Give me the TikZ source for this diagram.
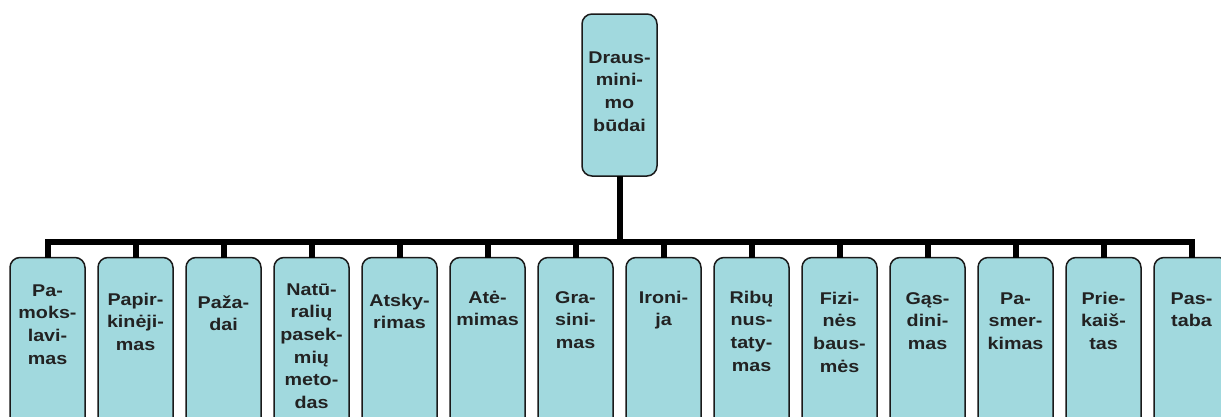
\documentclass[tikz,border=0pt]{standalone}
\usepackage{fontspec}
\setmainfont{Liberation Sans}
\newfontfamily\labfont[FakeStretch=1.16]{Liberation Sans}
\definecolor{boxfill}{RGB}{161,217,222}
\definecolor{txtcol}{RGB}{34,34,34}
\definecolor{edgecol}{RGB}{26,26,26}
\tikzset{
  box/.style={draw=edgecol, line width=1.5pt, fill=boxfill, rounded corners=10pt,
              minimum width=75pt, inner sep=0pt, outer sep=0pt},
  lbl/.style={anchor=north, inner sep=0pt, align=center, text=txtcol,
              font=\labfont\bfseries\fontsize{17}{22.6}\selectfont},
  conn/.style={line width=6pt, black, line join=miter}
}
\begin{document}
\begin{tikzpicture}[x=1pt,y=-1pt]
\useasboundingbox (0,0) rectangle (1221,416);
\fill[white] (0,0) rectangle (1221,416);
\coordinate (bus) at (619.5,241.5);
% top box
\node[box, minimum height=162pt] (top) at (619.5,95) {};
\node[lbl] (tt) at (619.5,63-15.82) {\strut Draus-\\mini-\\mo\\būdai};
% bottom boxes and labels
\foreach \i/\bl/\txt in {
  1/296/{Pa-\\moks-\\lavi-\\mas},
  2/305/{Papir-\\kinėji-\\mas},
  3/308/{Paža-\\dai},
  4/295/{Natū-\\ralių\\pasek-\\mių\\meto-\\das},
  5/306/{Atsky-\\rimas},
  6/303/{Atė-\\mimas},
  7/303/{Gra-\\sini-\\mas},
  8/303/{Ironi-\\ja},
  9/303/{Ribų\\nus-\\taty-\\mas},
  10/304/{Fizi-\\nės\\baus-\\mės},
  11/304/{Gąs-\\dini-\\mas},
  12/304/{Pa-\\smer-\\kimas},
  13/304/{Prie-\\kaiš-\\tas},
  14/304/{Pas-\\taba}} {
  \node[box, minimum height=192.5pt] (b\i) at ({47.5+88*(\i-1)},353.75) {};
  \node[lbl] (t\i) at ({47.5+88*(\i-1)},{\bl-15.82}) {\strut\txt};
}
% connectors
\foreach \i in {1,...,14} {
  \draw[conn] (top.south) -- (top.south |- bus) -| (b\i.north);
}
\end{tikzpicture}
\end{document}
